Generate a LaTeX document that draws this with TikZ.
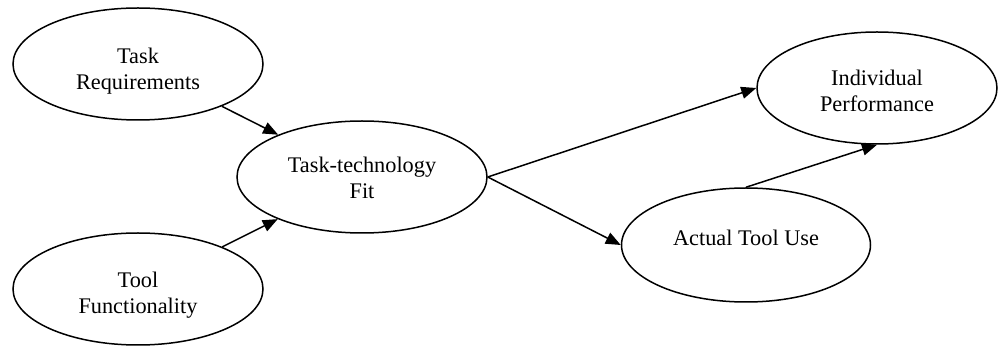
\documentclass[tikz,border=0pt]{standalone}
\usepackage{fontspec}
\setmainfont{Liberation Serif}
\usetikzlibrary{shapes.geometric,arrows.meta}
\newcommand{\ovaltext}[2]{\raisebox{-#1}[0pt][0pt]{\begin{tabular}{@{}c@{}}#2\end{tabular}}}
\begin{document}
\begin{tikzpicture}[x=1pt,y=-1pt,
  oval/.style={ellipse,draw,line width=1.5pt,minimum width=250pt,minimum height=112pt,
    inner sep=0pt,font=\fontsize{22.3}{26}\selectfont},
  arr/.style={line width=1.5pt,-{Triangle[length=15pt,width=12pt]}}]
\useasboundingbox (0,0) rectangle (999,347);
\node[oval] (tr) at (138,64) {\ovaltext{12pt}{Task\\Requirements}};
\node[oval] (tf) at (138,289) {\ovaltext{11pt}{Tool\\Functionality}};
\node[oval] (ttf) at (362,177) {\ovaltext{8pt}{Task-technology\\Fit}};
\node[oval,minimum width=240pt] (ip) at (877,88) {\ovaltext{10pt}{Individual\\Performance}};
\node[oval,minimum height=114pt,minimum width=249pt] (atu) at (746,245) {\ovaltext{0pt}{Actual Tool Use}};
\draw[arr] (tr) -- (ttf);
\draw[arr] (tf) -- (ttf);
\draw[arr] (ttf.east) -- (ip.west);
\draw[arr] (ttf.east) -- (atu.west);
\draw[arr] (atu.north) -- (ip.south);
\end{tikzpicture}
\end{document}
